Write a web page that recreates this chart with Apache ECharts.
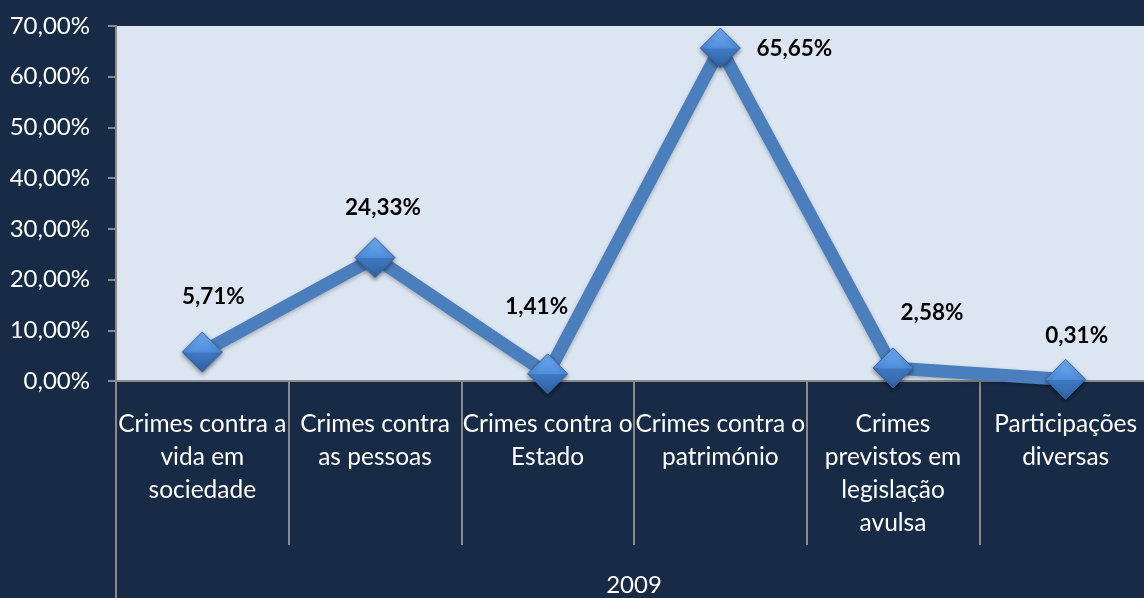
<!DOCTYPE html>
<html>
<head>
<meta charset="utf-8">
<script src="https://cdn.jsdelivr.net/npm/echarts@6/dist/echarts.min.js"></script>
<style>
  html, body { margin: 0; padding: 0; background: #172b47; }
  #myChart { width: 1144px; height: 598px; }
</style>
</head>
<body>
<div id="myChart"></div>
<script>
const categories = [
  "Crimes contra a\nvida em\nsociedade",
  "Crimes contra\nas pessoas",
  "Crimes contra o\nEstado",
  "Crimes contra o\npatrimónio",
  "Crimes\nprevistos em\nlegislação\navulsa",
  "Participações\ndiversas"
];
const years = ["2009"];
const values = [5.71, 24.33, 1.41, 65.65, 2.58, 0.31];
// label offsets around each point (px)
const labelOffsets = [[11, -55], [8, -50], [-11, -67], [74, 1], [39, -55], [11, -44]];

const fmt = v => v.toFixed(2).replace(".", ",") + "%";
const FONT = "Lato";

const option = {
  backgroundColor: "#172b47",
  animation: false,
  grid: {
    left: 116, top: 26, bottom: 217, width: 1036,
    outerBoundsMode: "none",
    show: true, backgroundColor: "#dce6f2", borderWidth: 0
  },
  xAxis: [{
    type: "category",
    data: categories,
    position: "bottom",
    axisLine: { show: true, lineStyle: { color: "#8a8a8a", width: 2 } },
    axisTick: { show: true, alignWithLabel: false, interval: 0, length: 164, lineStyle: { color: "#8a8a8a", width: 2 } },
    axisLabel: {
      interval: 0, color: "#ffffff", fontFamily: FONT, fontSize: 24.5,
      lineHeight: 33, margin: 27, align: "center"
    }
  }, {
    type: "category",
    data: years,
    position: "bottom",
    axisLine: { show: false },
    axisTick: { show: true, length: 217, lineStyle: { color: "#8a8a8a", width: 2 } },
    axisLabel: { color: "#ffffff", fontFamily: FONT, fontSize: 24, margin: 192 }
  }],
  yAxis: {
    type: "value",
    min: 0, max: 70, interval: 10,
    axisLine: { show: true, lineStyle: { color: "#8a8a8a", width: 2 } },
    axisTick: { show: true, length: 8, lineStyle: { color: "#8a8a8a", width: 2 } },
    splitLine: { show: false },
    axisLabel: {
      formatter: fmt, color: "#ffffff", fontFamily: FONT, fontSize: 24, margin: 26
    }
  },
  series: [{
    type: "line",
    xAxisIndex: 0,
    data: values.map((v, i) => ({
      value: v,
      label: { offset: labelOffsets[i] }
    })),
    lineStyle: {
      color: "#4a7ebd", width: 13,
      shadowColor: "rgba(0,0,0,0.25)", shadowBlur: 4, shadowOffsetY: 2
    },
    symbol: "diamond",
    symbolSize: 40,
    itemStyle: {
      color: {
        type: "linear", x: 0, y: 0, x2: 0, y2: 1,
        colorStops: [
          { offset: 0, color: "#74b0f4" },
          { offset: 0.5, color: "#4f8ddb" },
          { offset: 0.52, color: "#3f78c2" },
          { offset: 1, color: "#2f62a4" }
        ]
      },
      borderColor: "#3567a4", borderWidth: 1,
      shadowColor: "rgba(0,0,0,0.45)", shadowBlur: 4, shadowOffsetY: 2
    },
    label: {
      show: true,
      position: "inside",
      formatter: p => fmt(p.value),
      color: "#000000",
      fontFamily: FONT,
      fontWeight: "bold",
      fontSize: 22.5
    }
  }]
};

const ECharts = echarts.init(document.getElementById("myChart"));
ECharts.setOption(option);
</script>
</body>
</html>
